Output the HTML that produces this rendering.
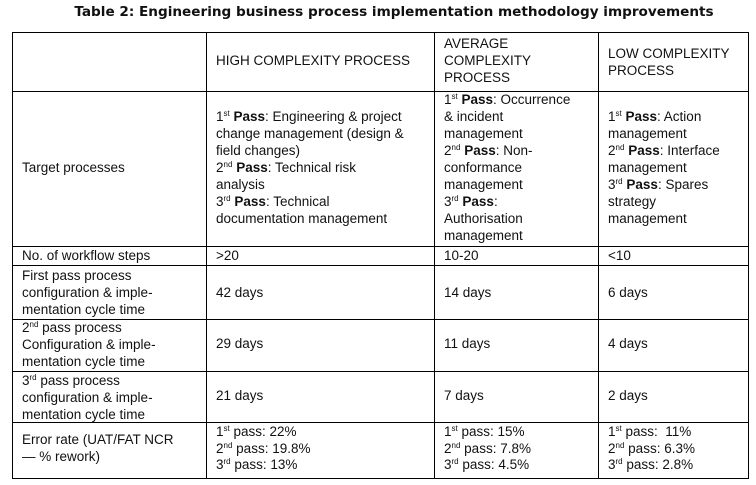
<!DOCTYPE html>
<html><head><meta charset="utf-8"><style>
body{margin:0;background:#fff;width:756px;height:485px;position:relative;overflow:hidden;font-family:"Liberation Sans",sans-serif;color:#111}
.t{position:absolute;font-size:13.5px;line-height:17px;white-space:pre}
.h{position:absolute;left:0;height:1px;background:#000}
.v{position:absolute;width:1px;background:#000;top:32px;height:447px}
sup{font-size:8px;line-height:0;vertical-align:5px}
b{font-weight:bold}
</style></head><body>
<div class="t" style="left:61px;width:666px;text-align:center;top:4px;font-weight:bold;font-size:13.6px;font-family:'DejaVu Sans',sans-serif">Table 2: Engineering business process implementation methodology improvements</div>
<div class="h" style="left:12px;width:737px;top:32px"></div>
<div class="h" style="left:12px;width:737px;top:91px"></div>
<div class="h" style="left:12px;width:737px;top:246px"></div>
<div class="h" style="left:12px;width:737px;top:265px"></div>
<div class="h" style="left:12px;width:737px;top:319px"></div>
<div class="h" style="left:12px;width:737px;top:371px"></div>
<div class="h" style="left:12px;width:737px;top:422px"></div>
<div class="h" style="left:12px;width:737px;top:478px"></div>
<div class="v" style="left:12px"></div>
<div class="v" style="left:206px"></div>
<div class="v" style="left:434px"></div>
<div class="v" style="left:598px"></div>
<div class="v" style="left:748px"></div>

<div class="t" style="left:216px;top:52px">HIGH COMPLEXITY PROCESS</div>
<div class="t" style="left:444px;top:35px">AVERAGE
COMPLEXITY
PROCESS</div>
<div class="t" style="left:608px;top:45px">LOW COMPLEXITY
PROCESS</div>

<div class="t" style="left:22px;top:159px">Target processes</div>
<div class="t" style="left:216px;top:108px">1<sup>st</sup> <b>Pass</b>: Engineering &amp; project
change management (design &amp;
field changes)
2<sup>nd</sup> <b>Pass</b>: Technical risk
analysis
3<sup>rd</sup> <b>Pass</b>: Technical
documentation management</div>
<div class="t" style="left:444px;top:91px">1<sup>st</sup> <b>Pass</b>: Occurrence
&amp; incident
management
2<sup>nd</sup> <b>Pass</b>: Non-
conformance
management
3<sup>rd</sup> <b>Pass</b>:
Authorisation
management</div>
<div class="t" style="left:608px;top:108px">1<sup>st</sup> <b>Pass</b>: Action
management
2<sup>nd</sup> <b>Pass</b>: Interface
management
3<sup>rd</sup> <b>Pass</b>: Spares
strategy
management</div>

<div class="t" style="left:22px;top:247px">No. of workflow steps</div>
<div class="t" style="left:216px;top:247px">&gt;20</div>
<div class="t" style="left:444px;top:247px">10-20</div>
<div class="t" style="left:608px;top:247px">&lt;10</div>

<div class="t" style="left:22px;top:267px">First pass process
configuration &amp; imple-
mentation cycle time</div>
<div class="t" style="left:216px;top:284px">42 days</div>
<div class="t" style="left:444px;top:284px">14 days</div>
<div class="t" style="left:608px;top:284px">6 days</div>

<div class="t" style="left:22px;top:319px">2<sup>nd</sup> pass process
Configuration &amp; imple-
mentation cycle time</div>
<div class="t" style="left:216px;top:335px">29 days</div>
<div class="t" style="left:444px;top:335px">11 days</div>
<div class="t" style="left:608px;top:335px">4 days</div>

<div class="t" style="left:22px;top:372px">3<sup>rd</sup> pass process
configuration &amp; imple-
mentation cycle time</div>
<div class="t" style="left:216px;top:387px">21 days</div>
<div class="t" style="left:444px;top:387px">7 days</div>
<div class="t" style="left:608px;top:387px">2 days</div>

<div class="t" style="left:22px;top:431px">Error rate (UAT/FAT NCR
— % rework)</div>
<div class="t" style="left:216px;top:424px;line-height:16.5px">1<sup>st</sup> pass: 22%
2<sup>nd</sup> pass: 19.8%
3<sup>rd</sup> pass: 13%</div>
<div class="t" style="left:444px;top:424px;line-height:16.5px">1<sup>st</sup> pass: 15%
2<sup>nd</sup> pass: 7.8%
3<sup>rd</sup> pass: 4.5%</div>
<div class="t" style="left:608px;top:424px;line-height:16.5px">1<sup>st</sup> pass:  11%
2<sup>nd</sup> pass: 6.3%
3<sup>rd</sup> pass: 2.8%</div>
</body></html>
